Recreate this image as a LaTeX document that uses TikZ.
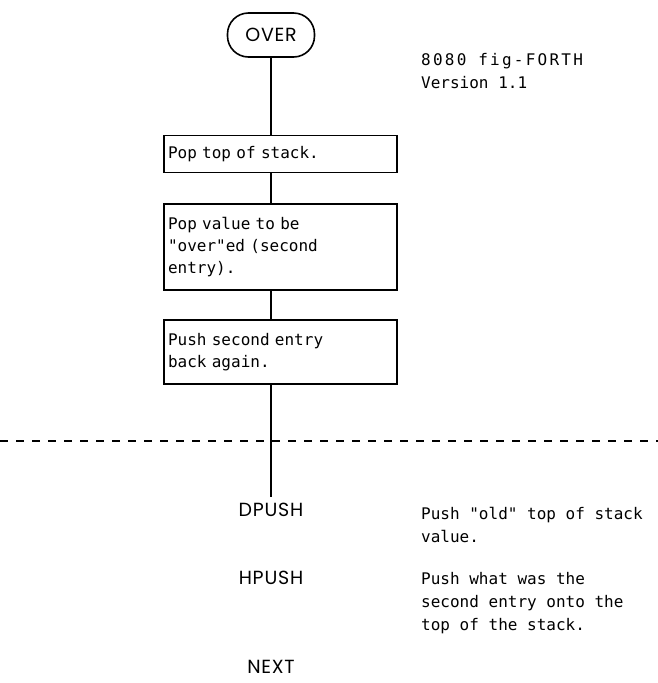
\documentclass[tikz,border=0pt]{standalone}
\usepackage{fontspec}
\newfontfamily\monof{DejaVu Sans Mono}
\newfontfamily\labf[LetterSpace=4]{Poppins}
\begin{document}
\begin{tikzpicture}[x=1pt,y=-1pt,
  lab/.style={font=\labf\fontsize{19}{22}\selectfont, inner sep=0pt},
  txt/.style={font=\monof\fontsize{16}{23}\selectfont, align=left, inner sep=0pt},
  stepbox/.style={draw, line width=1.4pt, minimum width=233pt, text width=225pt,
    inner xsep=4pt, inner ysep=0pt, align=left,
    font=\monof\fontsize{16}{22}\selectfont},
  flow/.style={line width=1.8pt}]
\useasboundingbox (0,0) rectangle (658,683);
\node[draw, line width=1.6pt, rounded corners=21pt, minimum width=87pt, minimum height=44pt, lab] (over) at (271,35) {OVER};
\node[txt, anchor=west] (title) at (421,71) {{\addfontfeature{LetterSpace=14}8080 fig-FORTH}\\Version 1.1};
\node[stepbox, minimum height=37pt] (b1) at (280.5,154) {Pop top of stack.};
\node[stepbox, minimum height=86pt] (b2) at (280.5,247) {Pop value to be\\"over"ed (second\\entry).};
\node[stepbox, minimum height=64pt] (b3) at (280.5,352) {Push second entry\\back again.};
\coordinate (dl) at (0,441);
\coordinate (dr) at (658,441);
\draw[line width=1.3pt, dash pattern=on 8pt off 8pt] (dl) -- (dr);
\coordinate (lend) at (270,497);
\draw[flow] (over.south) -- (over.south |- b1.north);
\draw[flow] (over.south |- b1.south) -- (over.south |- b2.north);
\draw[flow] (over.south |- b2.south) -- (over.south |- b3.north);
\draw[flow] (over.south |- b3.south) -- (over.south |- lend);
\node[lab] (dpush) at (271,510) {DPUSH};
\node[lab] (hpush) at (271,578) {HPUSH};
\node[lab] (next) at (271,667) {NEXT};
\node[txt, anchor=west] (c1) at (421,525) {Push "old" top of stack\\value.};
\node[txt, anchor=west] (c2) at (421,603) {Push what was the\\second entry onto the\\top of the stack.};
\end{tikzpicture}
\end{document}
